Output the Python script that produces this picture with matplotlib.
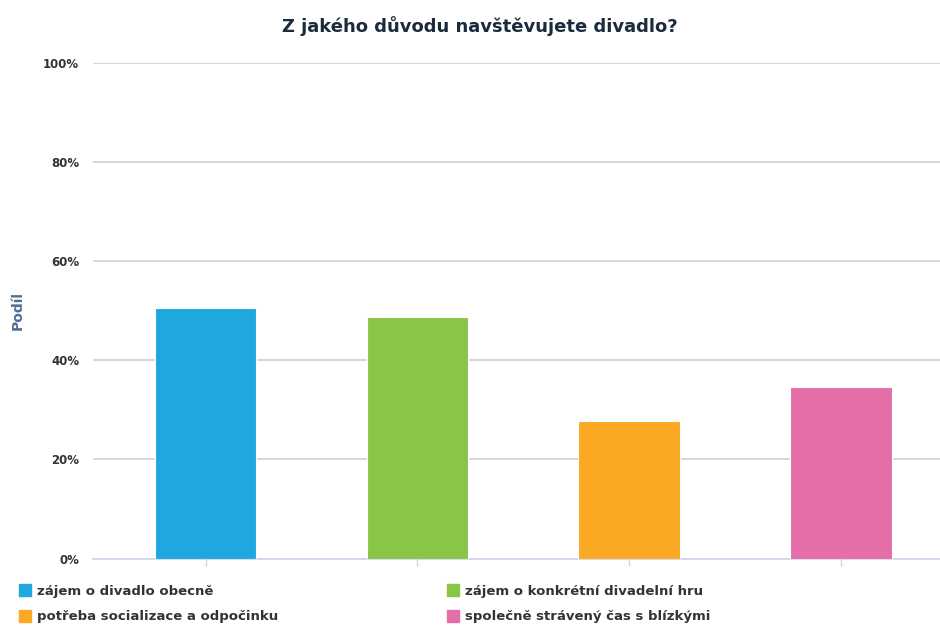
import matplotlib
matplotlib.use("Agg")
import matplotlib.pyplot as plt
from matplotlib.lines import Line2D
from matplotlib.ticker import FuncFormatter
import numpy as np

categories = [
    "zájem o divadlo obecně",
    "zájem o konkrétní divadelní hru",
    "potřeba socializace a odpočinku",
    "společně strávený čas s blízkými",
]
shares = [50.6, 48.6, 27.7, 34.6]
colors = ["#1fa8df", "#89c547", "#fba823", "#e56ea9"]
yticks = [0, 20, 40, 60, 80, 100]

fig = plt.figure(figsize=(9.4, 6.28), dpi=100)
ax = fig.add_axes([93 / 940, 69.5 / 628, 847 / 940, 496 / 628])

x = np.arange(len(categories))
ax.bar(x, shares, width=0.48, color=colors, edgecolor="white", linewidth=0.8, zorder=3)

# category slots are ~212 px wide, first one centred at x=205
ax.set_xlim(-0.532, 3.469)
ax.set_ylim(0, 100)
ax.set_yticks(yticks)
ax.yaxis.set_major_formatter(FuncFormatter(lambda v, _: f"{v:.0f}%"))
ax.grid(axis="y", color="#d0d0d0", linewidth=1.2, zorder=0)
ax.set_axisbelow(True)

for side in ("top", "right", "left"):
    ax.spines[side].set_visible(False)
ax.spines["bottom"].set_color("#ccd6eb")
ax.spines["bottom"].set_linewidth(1.2)

ax.set_xticks(x)
ax.set_xticklabels([])
ax.tick_params(axis="x", length=5, color="#ccd6eb", width=1)
ax.tick_params(axis="y", length=0, pad=10, labelsize=8.5, labelcolor="#333333")
for lbl in ax.get_yticklabels():
    lbl.set_fontweight("bold")

ax.set_ylabel("Podíl", fontsize=10, fontweight="bold", color="#4d6f94")
ax.yaxis.set_label_coords(-0.08, 0.50)

fig.suptitle("Z jakého důvodu navštěvujete divadlo?", x=0.51, y=0.975,
             fontsize=13, fontweight="bold", color="#1c2a3e")

# legend: filled row-wise (blue, green / orange, pink)
order = [0, 2, 1, 3]
handles = [
    Line2D([], [], marker="s", linestyle="none", markersize=9,
           markerfacecolor=colors[i], markeredgecolor=colors[i])
    for i in order
]
labels = [categories[i] for i in order]
leg = fig.legend(handles, labels, loc="upper left", bbox_to_anchor=(0.008, 0.088),
                 ncol=2, frameon=False, handlelength=0.8, handletextpad=0.5,
                 columnspacing=12.9, labelspacing=0.95,
                 prop={"size": 9.5, "weight": "bold"})
for t in leg.get_texts():
    t.set_color("#333333")

fig.savefig("out.png", dpi=100)
